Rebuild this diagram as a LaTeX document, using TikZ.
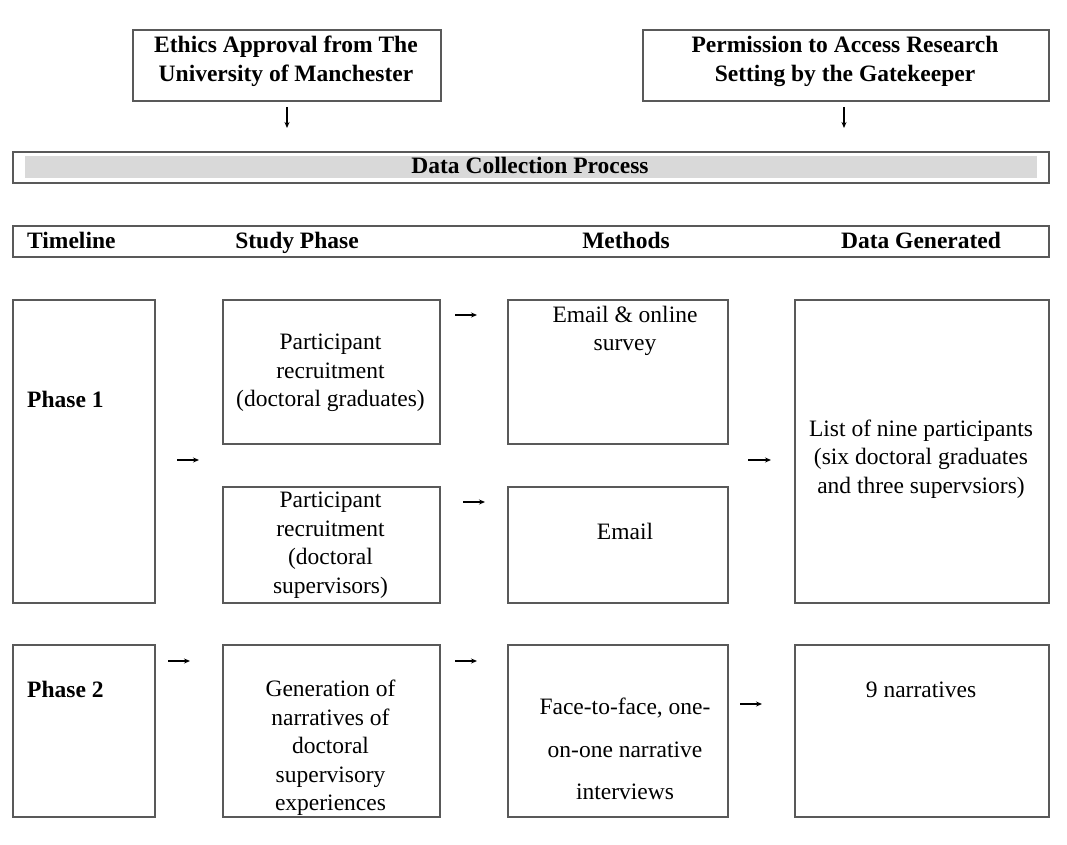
\documentclass[tikz,border=0pt]{standalone}
\usepackage{fontspec}
\setmainfont{Liberation Serif}
\usetikzlibrary{arrows.meta}
\begin{document}
\begin{tikzpicture}[x=1pt,y=-1pt,
  box/.style={draw=black!65, line width=1.6pt, inner sep=0pt, anchor=north west},
  txt/.style={font=\fontsize{23.5}{28.5}\selectfont, align=center, inner sep=0pt},
  head/.style={font=\fontsize{23.5}{29}\selectfont\bfseries, align=center, inner sep=0pt},
  arr/.style={line width=1.2pt, -{Stealth[length=6pt,width=5pt]}}]
\useasboundingbox (0,0) rectangle (1067,845);

% approvals
\node[box, minimum width=308pt, minimum height=71pt] (ethics) at (132,29) {};
\node[head] (ethicsT) at (286,61) {Ethics Approval from The\\University of Manchester};
\node[box, minimum width=406pt, minimum height=71pt] (gate) at (642,29) {};
\node[head] (gateT) at (845,61) {Permission to Access Research\\Setting by the Gatekeeper};

% data collection banner
\node[box, minimum width=1036pt, minimum height=31pt] (dcp) at (12,151) {};
\fill[black!15] (25,156) rectangle (1037,178);
\node[head, anchor=base] (dcpT) at (530,174) {Data Collection Process};

% column headings
\node[box, minimum width=1036pt, minimum height=31pt] (hdr) at (12,225) {};
\node[head, anchor=base west] (hTime) at (27,248) {Timeline};
\node[head, anchor=base] (hStudy) at (297,248) {Study Phase};
\node[head, anchor=base] (hMeth) at (626,248) {Methods};
\node[head, anchor=base] (hData) at (921,248) {Data Generated};

% phase 1
\node[box, minimum width=142pt, minimum height=303pt] (p1) at (12,299) {};
\node[head, anchor=base west] (p1T) at (27,407) {Phase 1};
\node[box, minimum width=217pt, minimum height=144pt] (s1) at (222,299) {};
\node[txt] (s1T) at (330.5,373) {Participant\\recruitment\\(doctoral graduates)};
\node[box, minimum width=217pt, minimum height=116pt] (s2) at (222,486) {};
\node[txt] (s2T) at (330.5,545) {Participant\\recruitment\\(doctoral\\supervisors)};
\node[box, minimum width=220pt, minimum height=144pt] (m1) at (507,299) {};
\node[txt] (m1T) at (625,331) {Email \& online\\survey};
\node[box, minimum width=220pt, minimum height=116pt] (m2) at (507,486) {};
\node[txt, anchor=base] (m2T) at (625,539) {Email};
\node[box, minimum width=254pt, minimum height=303pt] (d1) at (794,299) {};
\node[txt] (d1T) at (921,459) {List of nine participants\\(six doctoral graduates\\and three supervsiors)};

% phase 2
\node[box, minimum width=142pt, minimum height=172pt] (p2) at (12,644) {};
\node[head, anchor=base west] (p2T) at (27,697) {Phase 2};
\node[box, minimum width=217pt, minimum height=172pt] (s3) at (222,644) {};
\node[txt] (s3T) at (330.5,748) {Generation of\\narratives of\\doctoral\\supervisory\\experiences};
\node[box, minimum width=220pt, minimum height=172pt] (m3) at (507,644) {};
\node[txt, font=\fontsize{23.5}{42.5}\selectfont] (m3T) at (625,749) {Face-to-face, one-\\on-one narrative\\interviews};
\node[box, minimum width=254pt, minimum height=172pt] (d3) at (794,644) {};
\node[txt, anchor=base] (d3T) at (921,697) {9 narratives};

% arrow end points
\coordinate (eA) at (287,107);  \coordinate (eB) at (287,128);
\coordinate (gA) at (844,107);  \coordinate (gB) at (844,128);
\coordinate (pA) at (177,460);  \coordinate (pB) at (199,460);
\coordinate (sA) at (455,315);  \coordinate (sB) at (477,315);
\coordinate (tA) at (463,502);  \coordinate (tB) at (485,502);
\coordinate (mA) at (748,460);  \coordinate (mB) at (771,460);
\coordinate (qA) at (168,661);  \coordinate (qB) at (190,661);
\coordinate (uA) at (455,661);  \coordinate (uB) at (477,661);
\coordinate (vA) at (740,704);  \coordinate (vB) at (762,704);

\foreach \a/\b in {eA/eB, gA/gB, pA/pB, sA/sB, tA/tB, mA/mB, qA/qB, uA/uB, vA/vB}
  \draw[arr] (\a) -- (\b);
\end{tikzpicture}
\end{document}
